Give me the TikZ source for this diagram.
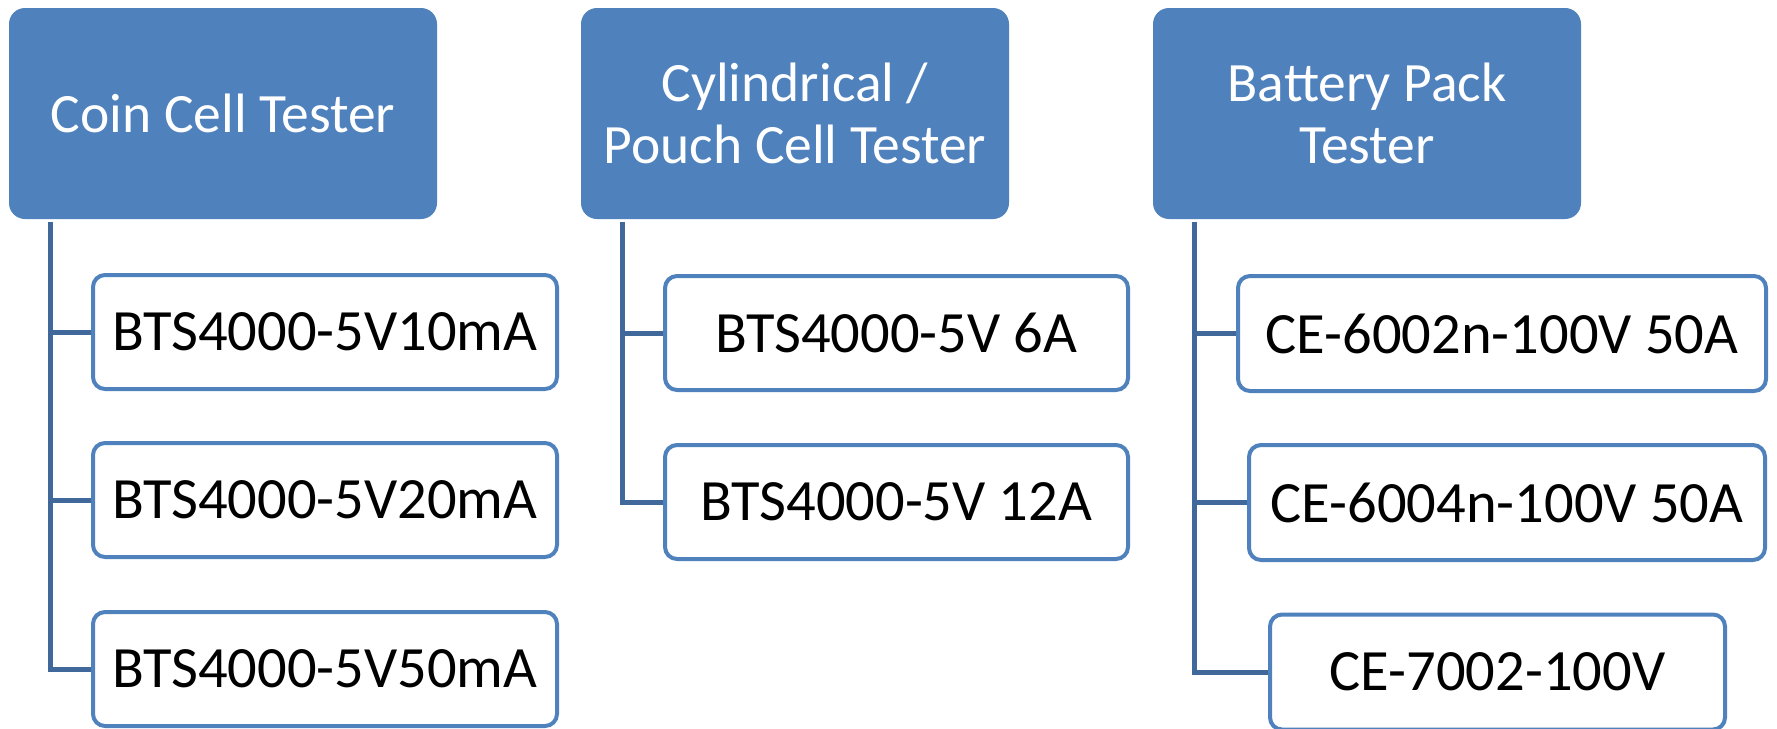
\documentclass[tikz,border=0pt]{standalone}
\usepackage{fontspec}
\setmainfont{Carlito}
\definecolor{hdrblue}{HTML}{4F81BD}
\definecolor{connblue}{HTML}{41689B}
\tikzset{
  hdr/.style={rectangle, rounded corners=16pt, fill=hdrblue, draw=none, inner sep=0pt,
    minimum width=428pt, minimum height=211pt, text=white, align=center,
    font=\fontsize{55.5}{62}\selectfont},
  item/.style={rectangle, rounded corners=12pt, draw=hdrblue, line width=4pt, fill=white,
    inner sep=0pt, minimum height=114pt, text=black, align=center,
    font=\fontsize{58.5}{66}\selectfont},
  conn/.style={draw=connblue, line width=5pt}
}
\begin{document}
\begin{tikzpicture}[x=1pt,y=-1pt]
\useasboundingbox (0,0) rectangle (1777,728);
% headers
\node[hdr] (h1) at (223,113.5) {Coin Cell Tester};
\node[hdr] (h2) at (795,113.5) {Cylindrical /\\Pouch Cell Tester};
\node[hdr] (h3) at (1367,113.5) {Battery Pack\\Tester};
% connector tops
\coordinate (t1) at (50,222);
\coordinate (t2) at (622,222);
\coordinate (t3) at (1194,222);
% items column 1
\node[item, minimum width=464pt] (a1) at (325,332) {BTS4000-5V10mA};
\node[item, minimum width=464pt] (a2) at (325,500) {BTS4000-5V20mA};
\node[item, minimum width=464pt] (a3) at (325,669) {BTS4000-5V50mA};
% items column 2
\node[item, minimum width=463pt] (b1) at (896.5,333) {BTS4000-5V 6A};
\node[item, minimum width=463pt] (b2) at (896.5,502) {BTS4000-5V 12A};
% items column 3
\node[item, minimum width=528pt, minimum height=115pt] (c1) at (1502,333.5) {CE-6002n-100V 50A};
\node[item, minimum width=516pt, minimum height=115pt] (c2) at (1507,502.5) {CE-6004n-100V 50A};
\node[item, minimum width=455pt, minimum height=115pt] (c3) at (1497.5,672) {CE-7002-100V};
% connectors
\draw[conn] (t1) |- (a1.west);
\draw[conn] (t1) |- (a2.west);
\draw[conn] (t1) |- (a3.west);
\draw[conn] (t2) |- (b1.west);
\draw[conn] (t2) |- (b2.west);
\draw[conn] (t3) |- (c1.west);
\draw[conn] (t3) |- (c2.west);
\draw[conn] (t3) |- (c3.west);
\end{tikzpicture}
\end{document}
